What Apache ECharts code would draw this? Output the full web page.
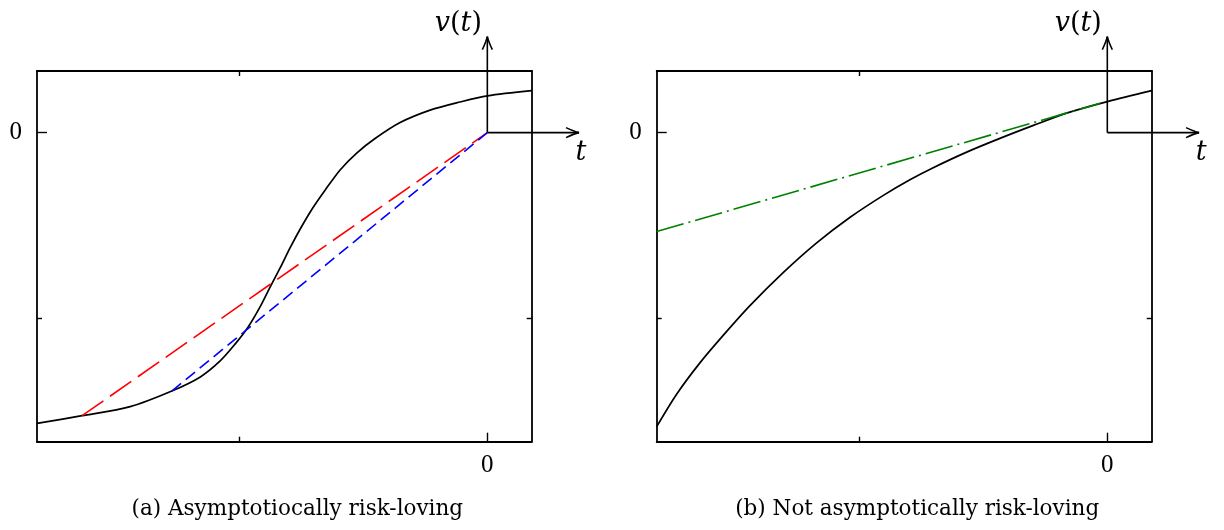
<!DOCTYPE html>
<html>
<head>
<meta charset="utf-8">
<script src="https://cdn.jsdelivr.net/npm/echarts@6/dist/echarts.min.js"></script>
<style>
html,body{margin:0;padding:0;background:#fff;}
#chart{width:1224px;height:530px;}
</style>
</head>
<body>
<div id="chart"></div>
<script>
// ---- data ----
const xRange = [-1.817, 0.179];
const yRange = [-1.665, 0.332];
const minorTicks = [-1];
const majorTicks = [0];
const tickLabels = [0];

const leftCurveX = [-1.817,-1.635,-1.441,-1.273,-1.158,-1.078,-1.017,-0.965,-0.917,-0.876,-0.836,-0.796,-0.755,-0.707,-0.654,-0.594,-0.526,-0.453,-0.352,-0.231,-0.110,0,0.179];
const leftCurveY = [-1.566,-1.525,-1.476,-1.392,-1.316,-1.230,-1.138,-1.047,-0.939,-0.831,-0.729,-0.621,-0.519,-0.411,-0.309,-0.201,-0.109,-0.032,0.054,0.121,0.165,0.198,0.226];
const redX = [-1.635, 0];
const redY = [-1.525, 0];
const blueX = [-1.273, 0];
const blueY = [-1.392, 0];

const rightCurveX = [-1.817,-1.736,-1.642,-1.548,-1.441,-1.306,-1.172,-1.037,-0.903,-0.796,-0.702,-0.567,-0.433,-0.298,-0.164,0,0.179];
const rightCurveY = [-1.584,-1.408,-1.239,-1.091,-0.932,-0.753,-0.594,-0.456,-0.338,-0.254,-0.189,-0.105,-0.031,0.039,0.105,0.167,0.226];
const greenX = [-1.817, -0.029];
const greenY = [-0.533, 0.158];

const arrowEnd = [0.370, 0.517]; // axis arrows extend to t and v(t) in data units
const captions = ['(a) Asymptotiocally risk-loving', '(b) Not asymptotically risk-loving'];

const zip = (xs, ys) => xs.map((x, i) => [x, ys[i]]);

const SERIF = 'DejaVu Serif';
const DIGIT = 'Liberation Serif';
const black = '#000';

const grids = [
  {left: 37, top: 71, width: 494.7, height: 370.7},
  {left: 656.7, top: 71, width: 495, height: 370.7}
];

function xAxes(g) {
  const base = {gridIndex: g, type: 'value', min: xRange[0], max: xRange[1], splitLine: {show: false}};
  return [
    Object.assign({}, base, {position: 'bottom',
      axisLine: {show: true, onZero: false, lineStyle: {color: black, width: 1.8}},
      axisTick: {show: true, inside: true, length: 5, customValues: minorTicks, lineStyle: {color: black, width: 1.4}},
      axisLabel: {show: true, customValues: tickLabels, margin: 11, color: black, fontFamily: DIGIT, fontSize: 25}}),
    Object.assign({}, base, {position: 'top',
      axisLine: {show: true, onZero: false, lineStyle: {color: black, width: 1.8}},
      axisTick: {show: true, inside: true, length: 5, customValues: minorTicks, lineStyle: {color: black, width: 1.4}},
      axisLabel: {show: false}}),
    Object.assign({}, base, {position: 'bottom',
      axisLine: {show: false, onZero: false},
      axisTick: {show: true, inside: true, length: 9, customValues: majorTicks, lineStyle: {color: black, width: 1.4}},
      axisLabel: {show: false}})
  ];
}
function yAxes(g) {
  const base = {gridIndex: g, type: 'value', min: yRange[0], max: yRange[1], splitLine: {show: false}};
  return [
    Object.assign({}, base, {position: 'left',
      axisLine: {show: true, onZero: false, lineStyle: {color: black, width: 1.8}},
      axisTick: {show: true, inside: true, length: 5, customValues: minorTicks, lineStyle: {color: black, width: 1.4}},
      axisLabel: {show: true, customValues: tickLabels, margin: 15, color: black, fontFamily: DIGIT, fontSize: 25}}),
    Object.assign({}, base, {position: 'right',
      axisLine: {show: true, onZero: false, lineStyle: {color: black, width: 1.8}},
      axisTick: {show: true, inside: true, length: 5, customValues: minorTicks, lineStyle: {color: black, width: 1.4}},
      axisLabel: {show: false}}),
    Object.assign({}, base, {position: 'left',
      axisLine: {show: false, onZero: false},
      axisTick: {show: true, inside: true, length: 10, customValues: majorTicks, lineStyle: {color: black, width: 1.4}},
      axisLabel: {show: false}})
  ];
}

function lineSeries(g, data, color, type, width) {
  return {
    type: 'line', xAxisIndex: g * 3, yAxisIndex: g * 3, data: data,
    showSymbol: false, symbol: 'none', animation: false, silent: true,
    smooth: data.length > 2 ? 0.3 : false,
    lineStyle: {color: color, width: width, type: type}
  };
}

const chart = echarts.init(document.getElementById('chart'), null, {renderer: 'canvas'});
chart.setOption({
  animation: false,
  backgroundColor: '#fff',
  grid: grids,
  xAxis: xAxes(0).concat(xAxes(1)),
  yAxis: yAxes(0).concat(yAxes(1)),
  series: [
    lineSeries(0, zip(leftCurveX, leftCurveY), black, 'solid', 1.7),
    lineSeries(0, zip(redX, redY), '#ff0000', [26, 8], 1.6),
    lineSeries(0, zip(blueX, blueY), '#0000ff', [12, 6], 1.6),
    lineSeries(1, zip(rightCurveX, rightCurveY), black, 'solid', 1.7),
    lineSeries(1, zip(greenX, greenY), '#008000', [28, 5, 2, 5], 1.6)
  ]
});

// axis arrows, math labels and captions
const gfx = [];
const AW = 1.6;
function arrowUp(x, y) {
  gfx.push({type: 'bezierCurve', shape: {x1: x - 5, y1: y + 13, x2: x, y2: y, cpx1: x - 1.2, cpy1: y + 5}, style: {stroke: black, lineWidth: AW, fill: null}});
  gfx.push({type: 'bezierCurve', shape: {x1: x + 5, y1: y + 13, x2: x, y2: y, cpx1: x + 1.2, cpy1: y + 5}, style: {stroke: black, lineWidth: AW, fill: null}});
}
function arrowRight(x, y) {
  gfx.push({type: 'bezierCurve', shape: {x1: x - 13, y1: y - 5, x2: x, y2: y, cpx1: x - 5, cpy1: y - 1.2}, style: {stroke: black, lineWidth: AW, fill: null}});
  gfx.push({type: 'bezierCurve', shape: {x1: x - 13, y1: y + 5, x2: x, y2: y, cpx1: x - 5, cpy1: y + 1.2}, style: {stroke: black, lineWidth: AW, fill: null}});
}
[0, 1].forEach(g => {
  const finder = {xAxisIndex: g * 3, yAxisIndex: g * 3};
  const o = chart.convertToPixel(finder, [0, 0]);
  const top = chart.convertToPixel(finder, [0, arrowEnd[1]]);
  const rgt = chart.convertToPixel(finder, [arrowEnd[0], 0]);
  gfx.push({type: 'line', shape: {x1: o[0], y1: o[1], x2: top[0], y2: top[1]}, style: {stroke: black, lineWidth: AW}});
  gfx.push({type: 'line', shape: {x1: o[0], y1: o[1], x2: rgt[0], y2: rgt[1]}, style: {stroke: black, lineWidth: AW}});
  arrowUp(top[0], top[1]);
  arrowRight(rgt[0], rgt[1]);
  gfx.push({type: 'text', x: top[0] - 29, y: top[1] - 13, style: {
    text: '{i|v}{r|(}{i|t}{r|)}', align: 'center', verticalAlign: 'middle',
    rich: {i: {fontFamily: SERIF, fontStyle: 'italic', fontSize: 27, fill: black},
           r: {fontFamily: SERIF, fontSize: 27, fill: black}}
  }});
  gfx.push({type: 'text', x: rgt[0] + 2, y: rgt[1] + 20, style: {
    text: 't', align: 'center', verticalAlign: 'middle',
    fontFamily: SERIF, fontStyle: 'italic', fontSize: 27, fill: black
  }});
  const gr = grids[g];
  gfx.push({type: 'text', x: gr.left + gr.width / 2 + 13, y: 509, style: {
    text: captions[g], align: 'center', verticalAlign: 'middle',
    fontFamily: SERIF, fontSize: 21.5, fill: black
  }});
});
chart.setOption({graphic: {elements: gfx}});
</script>
</body>
</html>
